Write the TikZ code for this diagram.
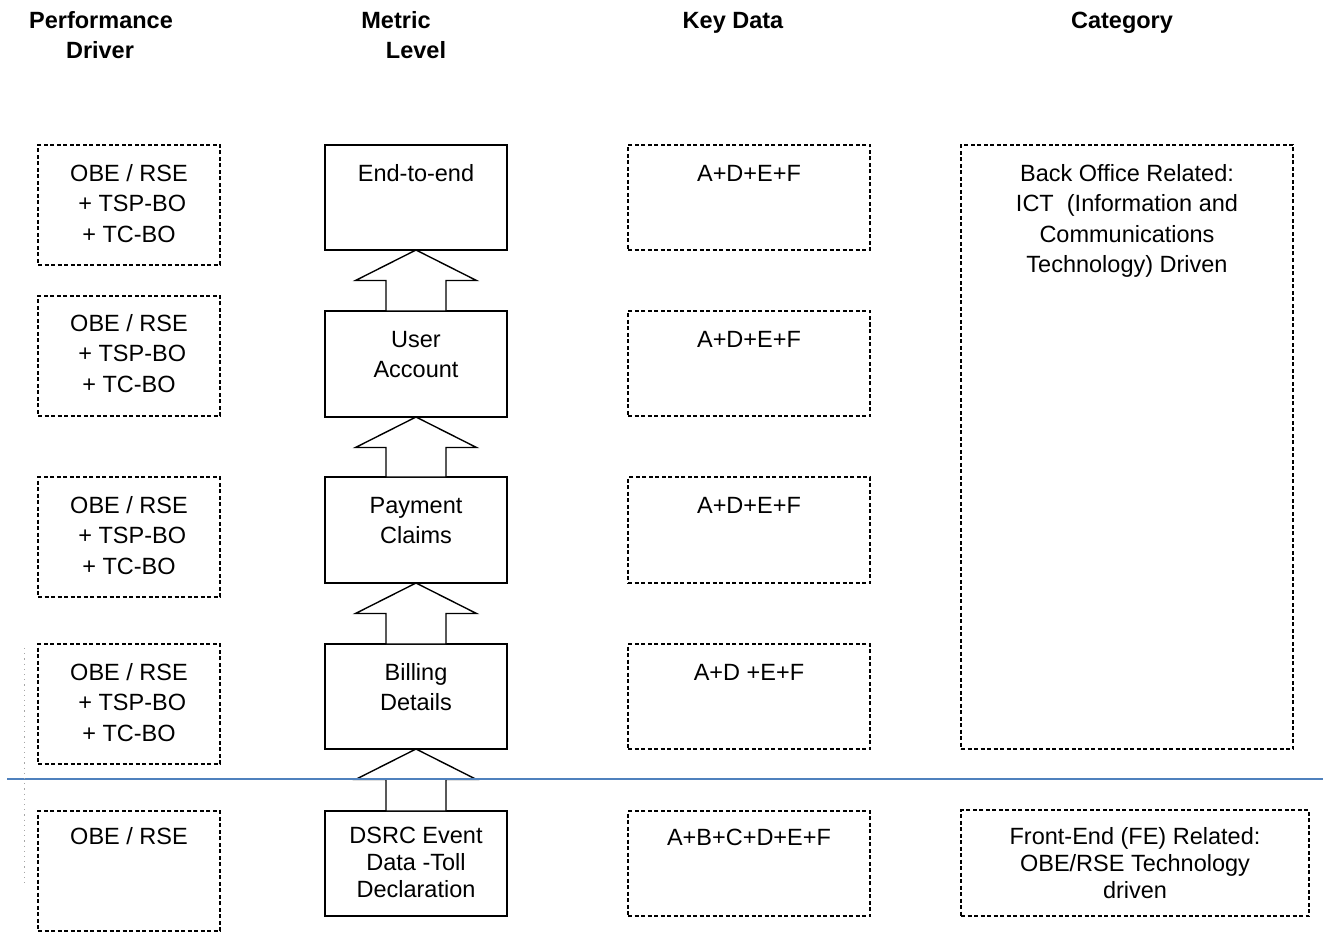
\documentclass[tikz,border=0pt]{standalone}
\usepackage{fontspec}
\setmainfont{Liberation Sans}
\usetikzlibrary{calc}
\definecolor{sepblue}{RGB}{79,129,189}
\tikzset{
  every node/.style={inner sep=0pt, outer sep=0pt},
  dbox/.style={draw, line width=1.2pt, dash pattern=on 4pt off 2.5pt, rectangle},
  sbox/.style={draw, line width=1.4pt, rectangle, fill=white},
  txt/.style={font=\fontsize{23.5}{30.5}\selectfont, align=center, anchor=north},
  txttight/.style={font=\fontsize{23.5}{27}\selectfont, align=center, anchor=north},
  hdr/.style={font=\fontsize{23.5}{30.5}\selectfont\bfseries, anchor=base},
  blockarrow/.style={draw, line width=1.4pt, fill=white, line join=miter},
}
\begin{document}
\begin{tikzpicture}[x=1pt, y=-1pt]
\useasboundingbox (0,0) rectangle (1323,933);

% column headings
\node[hdr] (h1a) at (101,28.4) {Performance};
\node[hdr] (h1b) at (100,58.4) {Driver};
\node[hdr] (h2a) at (396,28.4) {Metric};
\node[hdr] (h2b) at (416,58.4) {Level};
\node[hdr] (h3)  at (733,28.4) {Key Data};
\node[hdr] (h4)  at (1122,28.4) {Category};

% performance drivers
\node[dbox, minimum width=182pt, minimum height=120pt] (d1) at (129,205) {};
\node[dbox, minimum width=182pt, minimum height=120pt] (d2) at (129,356) {};
\node[dbox, minimum width=182pt, minimum height=120pt] (d3) at (129,537) {};
\node[dbox, minimum width=182pt, minimum height=120pt] (d4) at (129,704) {};
\node[dbox, minimum width=182pt, minimum height=120pt] (d5) at (129,871) {};
\node[txt] (d1t) at ([yshift=-15pt]d1.north) {\strut OBE / RSE\\~+ TSP-BO\\+ TC-BO};
\node[txt] (d2t) at ([yshift=-14pt]d2.north) {\strut OBE / RSE\\~+ TSP-BO\\+ TC-BO};
\node[txt] (d3t) at ([yshift=-15pt]d3.north) {\strut OBE / RSE\\~+ TSP-BO\\+ TC-BO};
\node[txt] (d4t) at ([yshift=-15pt]d4.north) {\strut OBE / RSE\\~+ TSP-BO\\+ TC-BO};
\node[txt] (d5t) at ([yshift=-12pt]d5.north) {\strut OBE / RSE};

% key data
\node[dbox, minimum width=242pt, minimum height=105pt] (k1) at (749,197.5) {};
\node[dbox, minimum width=242pt, minimum height=105pt] (k2) at (749,363.5) {};
\node[dbox, minimum width=242pt, minimum height=106pt] (k3) at (749,530) {};
\node[dbox, minimum width=242pt, minimum height=105pt] (k4) at (749,696.5) {};
\node[dbox, minimum width=242pt, minimum height=105pt] (k5) at (749,863.5) {};
\node[txt] (k1t) at ([yshift=-15pt]k1.north) {\strut A+D+E+F};
\node[txt] (k2t) at ([yshift=-15pt]k2.north) {\strut A+D+E+F};
\node[txt] (k3t) at ([yshift=-15pt]k3.north) {\strut A+D+E+F};
\node[txt] (k4t) at ([yshift=-15pt]k4.north) {\strut A+D +E+F};
\node[txt] (k5t) at ([yshift=-13pt]k5.north) {\strut A+B+C+D+E+F};

% categories
\node[dbox, minimum width=332pt, minimum height=604pt] (c1) at (1127,447) {};
\node[dbox, minimum width=348pt, minimum height=106pt] (c2) at (1135,863) {};
\node[txt] (c1t) at ([yshift=-15pt]c1.north) {\strut Back Office Related:\\ICT\ \ (Information and\\Communications\\Technology) Driven};
\node[txttight] (c2t) at ([yshift=-15.5pt]c2.north) {\strut Front-End (FE) Related:\\OBE/RSE Technology\\driven};

% metric levels
\node[sbox, minimum width=182pt, minimum height=105pt] (m1) at (416,197.5) {};
\node[sbox, minimum width=182pt, minimum height=106pt] (m2) at (416,364) {};
\node[sbox, minimum width=182pt, minimum height=106pt] (m3) at (416,530) {};
\node[sbox, minimum width=182pt, minimum height=105pt] (m4) at (416,696.5) {};
\node[sbox, minimum width=182pt, minimum height=105pt] (m5) at (416,863.5) {};
\node[txt] (m1t) at ([yshift=-15pt]m1.north) {\strut End-to-end};
\node[txt] (m2t) at ([yshift=-15pt]m2.north) {\strut User\\Account};
\node[txt] (m3t) at ([yshift=-15pt]m3.north) {\strut Payment\\Claims};
\node[txt] (m4t) at ([yshift=-15pt]m4.north) {\strut Billing\\Details};
\node[txttight] (m5t) at ([yshift=-13.5pt]m5.north) {\strut DSRC Event\\Data -Toll\\Declaration};

% block arrows pointing up from each level to the one above
\foreach \lo/\hi in {m2/m1, m3/m2, m4/m3, m5/m4}{
  \coordinate (hb) at ($(\hi.south)+(0,30.5)$);
  \draw[blockarrow] (\hi.south) -- ($(hb)+(60.5,0)$) -- ($(hb)+(30,0)$)
    -- ($(\lo.north)+(30,0)$) -- ($(\lo.north)+(-30,0)$)
    -- ($(hb)+(-30,0)$) -- ($(hb)+(-60.5,0)$) -- cycle;
}

% separator between back-office and front-end levels
\coordinate (sepL) at (7,779);
\coordinate (sepR) at (1323,779);
\draw[sepblue, line width=1.5pt] (sepL) -- (sepR);

% faint dotted margin mark
\coordinate (markT) at (24,648);
\coordinate (markB) at (24,886);
\draw[black!35, line width=0.8pt, dash pattern=on 1.2pt off 4pt] (markT) -- (markB);
\end{tikzpicture}
\end{document}
